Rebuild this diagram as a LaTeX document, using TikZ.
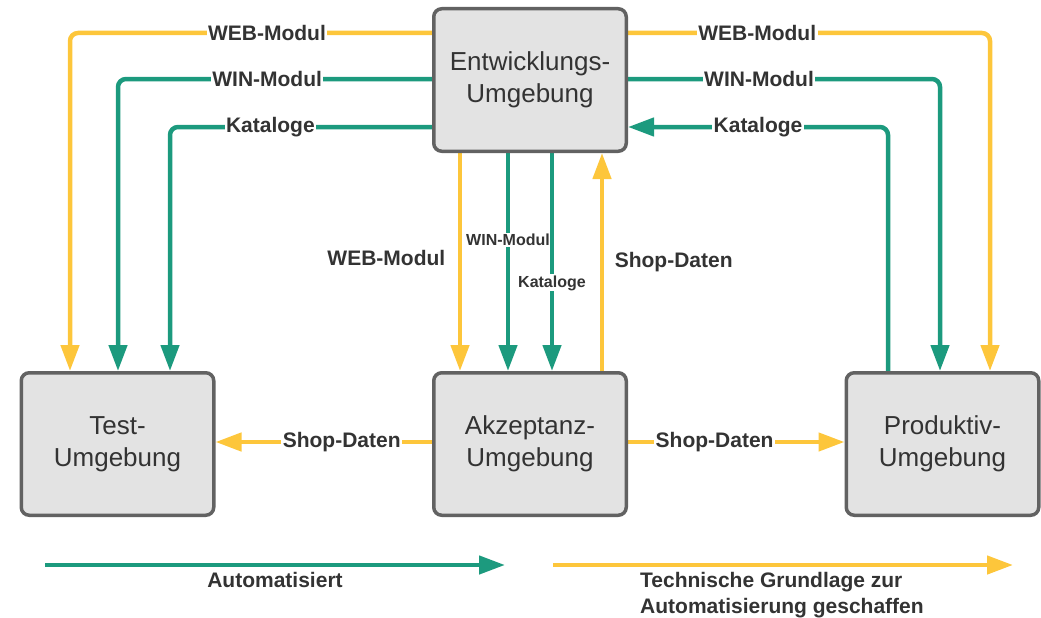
\documentclass[tikz,border=0pt]{standalone}
\usepackage{fontspec}
\setmainfont{Liberation Sans}
\usetikzlibrary{arrows.meta,backgrounds}

\definecolor{flowY}{HTML}{FDC63B}
\definecolor{flowT}{HTML}{1C9A7E}
\definecolor{boxfill}{HTML}{E3E3E3}
\definecolor{boxline}{HTML}{626262}
\definecolor{ink}{HTML}{333333}

\begin{document}
\begin{tikzpicture}[x=1pt,y=-1pt,
  env/.style={draw=boxline, line width=3.5pt, fill=boxfill, rounded corners=8pt,
    minimum width=192.5pt, minimum height=142.5pt, align=center, text=ink,
    font=\fontsize{26}{32}\selectfont, inner sep=0pt},
  flow/.style={line width=4.5pt, rounded corners=8pt,
    -{Triangle[length=26pt,width=18pt]}},
  yflow/.style={flow, draw=flowY},
  tflow/.style={flow, draw=flowT},
  lbl/.style={fill=white, text=ink, font=\bfseries\fontsize{21}{26}\selectfont,
    inner sep=1.5pt, rounded corners=0pt},
  slbl/.style={lbl, font=\bfseries\fontsize{16}{19}\selectfont, inner sep=1pt},
  legend text/.style={text=ink, font=\bfseries\fontsize{21}{26}\selectfont, inner sep=0pt},
]
\useasboundingbox (0,0) rectangle (1041,618);

% environments
\node[env] (dev) at (530,80)    {Entwicklungs-\\Umgebung};
\node[env] (tst) at (117.5,444) {Test-\\Umgebung};
\node[env] (acc) at (530,444)   {Akzeptanz-\\Umgebung};
\node[env] (prd) at (942.5,444) {Produktiv-\\Umgebung};

% routing rows and columns
\coordinate (rWeb)  at (0,33);
\coordinate (rWin)  at (0,79);
\coordinate (rKat)  at (0,127);
\coordinate (rShop) at (0,442);
\coordinate (cL1) at (70,0);
\coordinate (cL2) at (118,0);
\coordinate (cL3) at (170,0);
\coordinate (cR1) at (990,0);
\coordinate (cR2) at (940,0);
\coordinate (cR3) at (888,0);
\coordinate (vWeb)  at (460,0);
\coordinate (vWin)  at (508,0);
\coordinate (vKat)  at (552,0);
\coordinate (vShop) at (602,0);

\begin{scope}[on background layer]
  % to the test environment
  \draw[yflow] (dev.west |- rWeb) -- node[lbl,pos=0.456]{WEB-Modul} (cL1 |- rWeb) -- (cL1 |- tst.north);
  \draw[tflow] (dev.west |- rWin) -- node[lbl,pos=0.525]{WIN-Modul} (cL2 |- rWin) -- (cL2 |- tst.north);
  \draw[tflow] (dev.west |- rKat) -- node[lbl,pos=0.617]{Kataloge} (cL3 |- rKat) -- (cL3 |- tst.north);
  % to and from the production environment
  \draw[yflow] (dev.east |- rWeb) -- node[lbl,pos=0.357]{WEB-Modul} (cR1 |- rWeb) -- (cR1 |- prd.north);
  \draw[tflow] (dev.east |- rWin) -- node[lbl,pos=0.42]{WIN-Modul} (cR2 |- rWin) -- (cR2 |- prd.north);
  \draw[tflow] (cR3 |- prd.north) -- (cR3 |- rKat) -- node[lbl,pos=0.5]{Kataloge} (dev.east |- rKat);
  % development <-> acceptance
  \draw[yflow] (vWeb |- dev.south) -- node[lbl,fill=none,anchor=east,xshift=-11pt,pos=0.48]{WEB-Modul} (vWeb |- acc.north);
  \draw[tflow] (vWin |- dev.south) -- node[slbl,pos=0.40]{WIN-Modul} (vWin |- acc.north);
  \draw[tflow] (vKat |- dev.south) -- node[slbl,pos=0.596]{Kataloge} (vKat |- acc.north);
  \draw[yflow] (vShop |- acc.north) -- node[lbl,fill=none,anchor=west,xshift=9pt,pos=0.5]{Shop-Daten} (vShop |- dev.south);
  % shop data from acceptance
  \draw[yflow] (acc.west |- rShop) -- node[lbl,pos=0.417]{Shop-Daten} (tst.east |- rShop);
  \draw[yflow] (acc.east |- rShop) -- node[lbl,pos=0.40]{Shop-Daten} (prd.west |- rShop);
\end{scope}

% legend
\coordinate (lgTa) at (45,565);
\coordinate (lgTb) at (505,565);
\coordinate (lgYa) at (553,565);
\coordinate (lgYb) at (1013,565);
\draw[tflow] (lgTa) -- (lgTb);
\draw[yflow] (lgYa) -- (lgYb);
\node[legend text, anchor=north] (lgT) at (275,572) {Automatisiert};
\node[legend text, anchor=north west, align=left] (lgY) at (640,572)
  {Technische Grundlage zur\\Automatisierung geschaffen};
\end{tikzpicture}
\end{document}
